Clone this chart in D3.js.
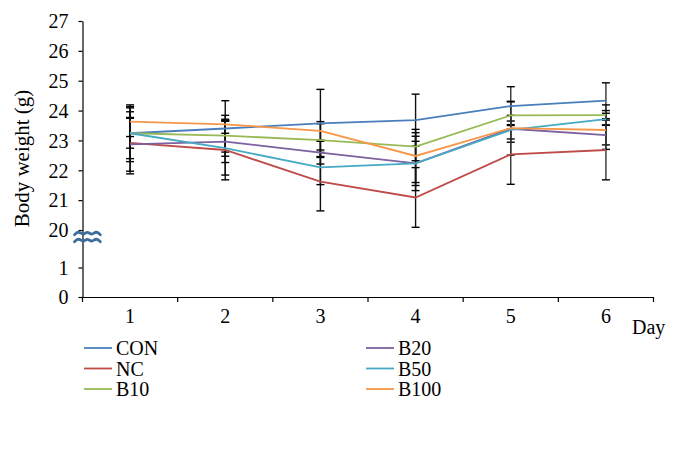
<!DOCTYPE html>
<html>
<head>
<meta charset="utf-8">
<script src="https://cdn.jsdelivr.net/npm/d3@7"></script>
<style>
  html, body { margin: 0; padding: 0; background: #fff; }
  svg { display: block; }
  text { font-family: "Liberation Serif", "DejaVu Serif", serif; fill: #000; }
</style>
</head>
<body>
<svg id="chart" width="678" height="451"></svg>
<script>
// ---------- data ----------
const days = [1, 2, 3, 4, 5, 6];
const seriesNames = ["CON", "NC", "B10", "B20", "B50", "B100"];
const seriesColors = ["#4A7EBB", "#BE4B48", "#98B954", "#7D60A0", "#46AAC5", "#F79646"];

const CON  = [23.24, 23.40, 23.57, 23.68, 24.15, 24.33];
const NC   = [22.92, 22.68, 21.62, 21.09, 22.53, 22.68];
const B10  = [23.24, 23.16, 23.01, 22.79, 23.84, 23.85];
const B20  = [22.87, 22.96, 22.59, 22.23, 23.39, 23.18];
const B50  = [23.24, 22.74, 22.10, 22.23, 23.35, 23.71];
const B100 = [23.63, 23.54, 23.32, 22.48, 23.41, 23.35];

const CON_sd  = [0.85, 0.93, 1.14, 0.87, 0.65, 0.60];
const NC_sd   = [1.04, 1.00, 0.98, 1.00, 1.00, 1.00];
const B10_sd  = [0.95, 0.55, 0.55, 0.47, 0.45, 0.34];
const B20_sd  = [0.90, 0.70, 0.38, 0.74, 0.45, 0.33];
const B50_sd  = [0.50, 0.90, 0.58, 0.91, 0.30, 0.20];
const B100_sd = [0.50, 0.30, 0.31, 0.89, 0.90, 0.65];

const yTickValues = [0, 1, 20, 21, 22, 23, 24, 25, 26, 27];
const yTitle = "Body weight (g)";
const xTitle = "Day";

const values = [CON, NC, B10, B20, B50, B100];
const sds = [CON_sd, NC_sd, B10_sd, B20_sd, B50_sd, B100_sd];

// ---------- layout ----------
const svg = d3.select("#chart");
const x0 = 82.5, x1 = 653.5;
const yBottom = 297, yTop = 21;

const x = d3.scaleBand().domain(days).range([x0, x1]).paddingInner(0).paddingOuter(0);
// broken axis: 0..1 then jump to 20..27
const y = d3.scaleLinear().domain([0, 1, 20, 27]).range([yBottom, 267.5, 230, yTop]);

// error bars
const ebG = svg.append("g");
seriesNames.forEach((name, si) => {
  days.forEach((d, i) => {
    const cx = x(d) + x.bandwidth() / 2;
    const v = values[si][i], s = sds[si][i];
    ebG.append("line").attr("x1", cx).attr("x2", cx)
      .attr("y1", y(v - s)).attr("y2", y(v + s))
      .attr("stroke", i >= 4 ? "#333" : "#111").attr("stroke-width", 1.4);
    [v - s, v + s].forEach(e => {
      ebG.append("line").attr("x1", cx - 4).attr("x2", cx + 4)
        .attr("y1", y(e)).attr("y2", y(e))
        .attr("stroke", "#000").attr("stroke-width", 1.4);
    });
  });
});

// series lines
const line = d3.line()
  .x((v, i) => x(days[i]) + x.bandwidth() / 2)
  .y(v => y(v));
seriesNames.forEach((name, si) => {
  svg.append("path").datum(values[si])
    .attr("d", line)
    .attr("fill", "none")
    .attr("stroke", seriesColors[si])
    .attr("stroke-width", 1.8);
});

// y axis
const yAxis = d3.axisLeft(y).tickValues(yTickValues).tickSize(4).tickSizeOuter(0);
const yg = svg.append("g").attr("transform", `translate(${x0},0)`).call(yAxis);
yg.select(".domain").attr("stroke", "#000").attr("stroke-width", 1.2);
yg.selectAll(".tick line").attr("stroke", "#000").attr("stroke-width", 1.2);
yg.selectAll(".tick text").attr("font-size", 20).attr("font-family", "Liberation Serif").attr("dy", "0.34em").attr("x", -14);

// x axis
const xAxis = d3.axisBottom(x).tickSize(0).tickSizeOuter(0).tickPadding(14);
const xg = svg.append("g").attr("transform", `translate(0,${yBottom})`).call(xAxis);
xg.select(".domain").attr("stroke", "#000").attr("stroke-width", 1.2);
xg.selectAll(".tick text").attr("font-size", 20).attr("font-family", "Liberation Serif").attr("y", 12);
// tick marks at category boundaries
const bounds = days.map(d => x(d)).concat([x(days[days.length - 1]) + x.bandwidth()]);
xg.selectAll(".bnd").data(bounds).enter().append("line")
  .attr("x1", d => d).attr("x2", d => d).attr("y1", 0).attr("y2", 5)
  .attr("stroke", "#000").attr("stroke-width", 1.2);

// axis titles
svg.append("text").attr("x", 632).attr("y", 334).attr("font-size", 20).text(xTitle);
svg.append("text").attr("transform", `translate(29,${(y(27) + y(20)) / 2 + 33}) rotate(-90)`)
  .attr("text-anchor", "middle").attr("font-size", 21).text(yTitle);

// axis break symbol
const bx = x0 + 5, by = (y(20) + y(1)) / 2 - 12;
const wave = d3.line().curve(d3.curveBasis);
[-3.5, 3.5].forEach(off => {
  const pts = d3.range(0, 7).map(k => [bx - 13 + k * 4.3, by + off + (k % 2 ? -2.5 : 2.5) * (k === 0 || k === 6 ? 0.6 : 1)]);
  svg.append("path").attr("d", wave(pts)).attr("fill", "none")
    .attr("stroke", "#3E6C9C").attr("stroke-width", 2.8).attr("stroke-linecap", "round");
});

// legend
const legX = [84, 366], legY = [348, 368.5, 389];
seriesNames.forEach((name, si) => {
  const col = Math.floor(si / 3), row = si % 3;
  const g = svg.append("g").attr("transform", `translate(${legX[col]},${legY[row]})`);
  g.append("line").attr("x1", 0).attr("x2", 28).attr("y1", 0).attr("y2", 0)
    .attr("stroke", seriesColors[si]).attr("stroke-width", 1.8);
  g.append("text").attr("x", 32).attr("y", 0).attr("dy", "0.35em").attr("font-size", 20).text(name);
});
</script>
</body>
</html>
